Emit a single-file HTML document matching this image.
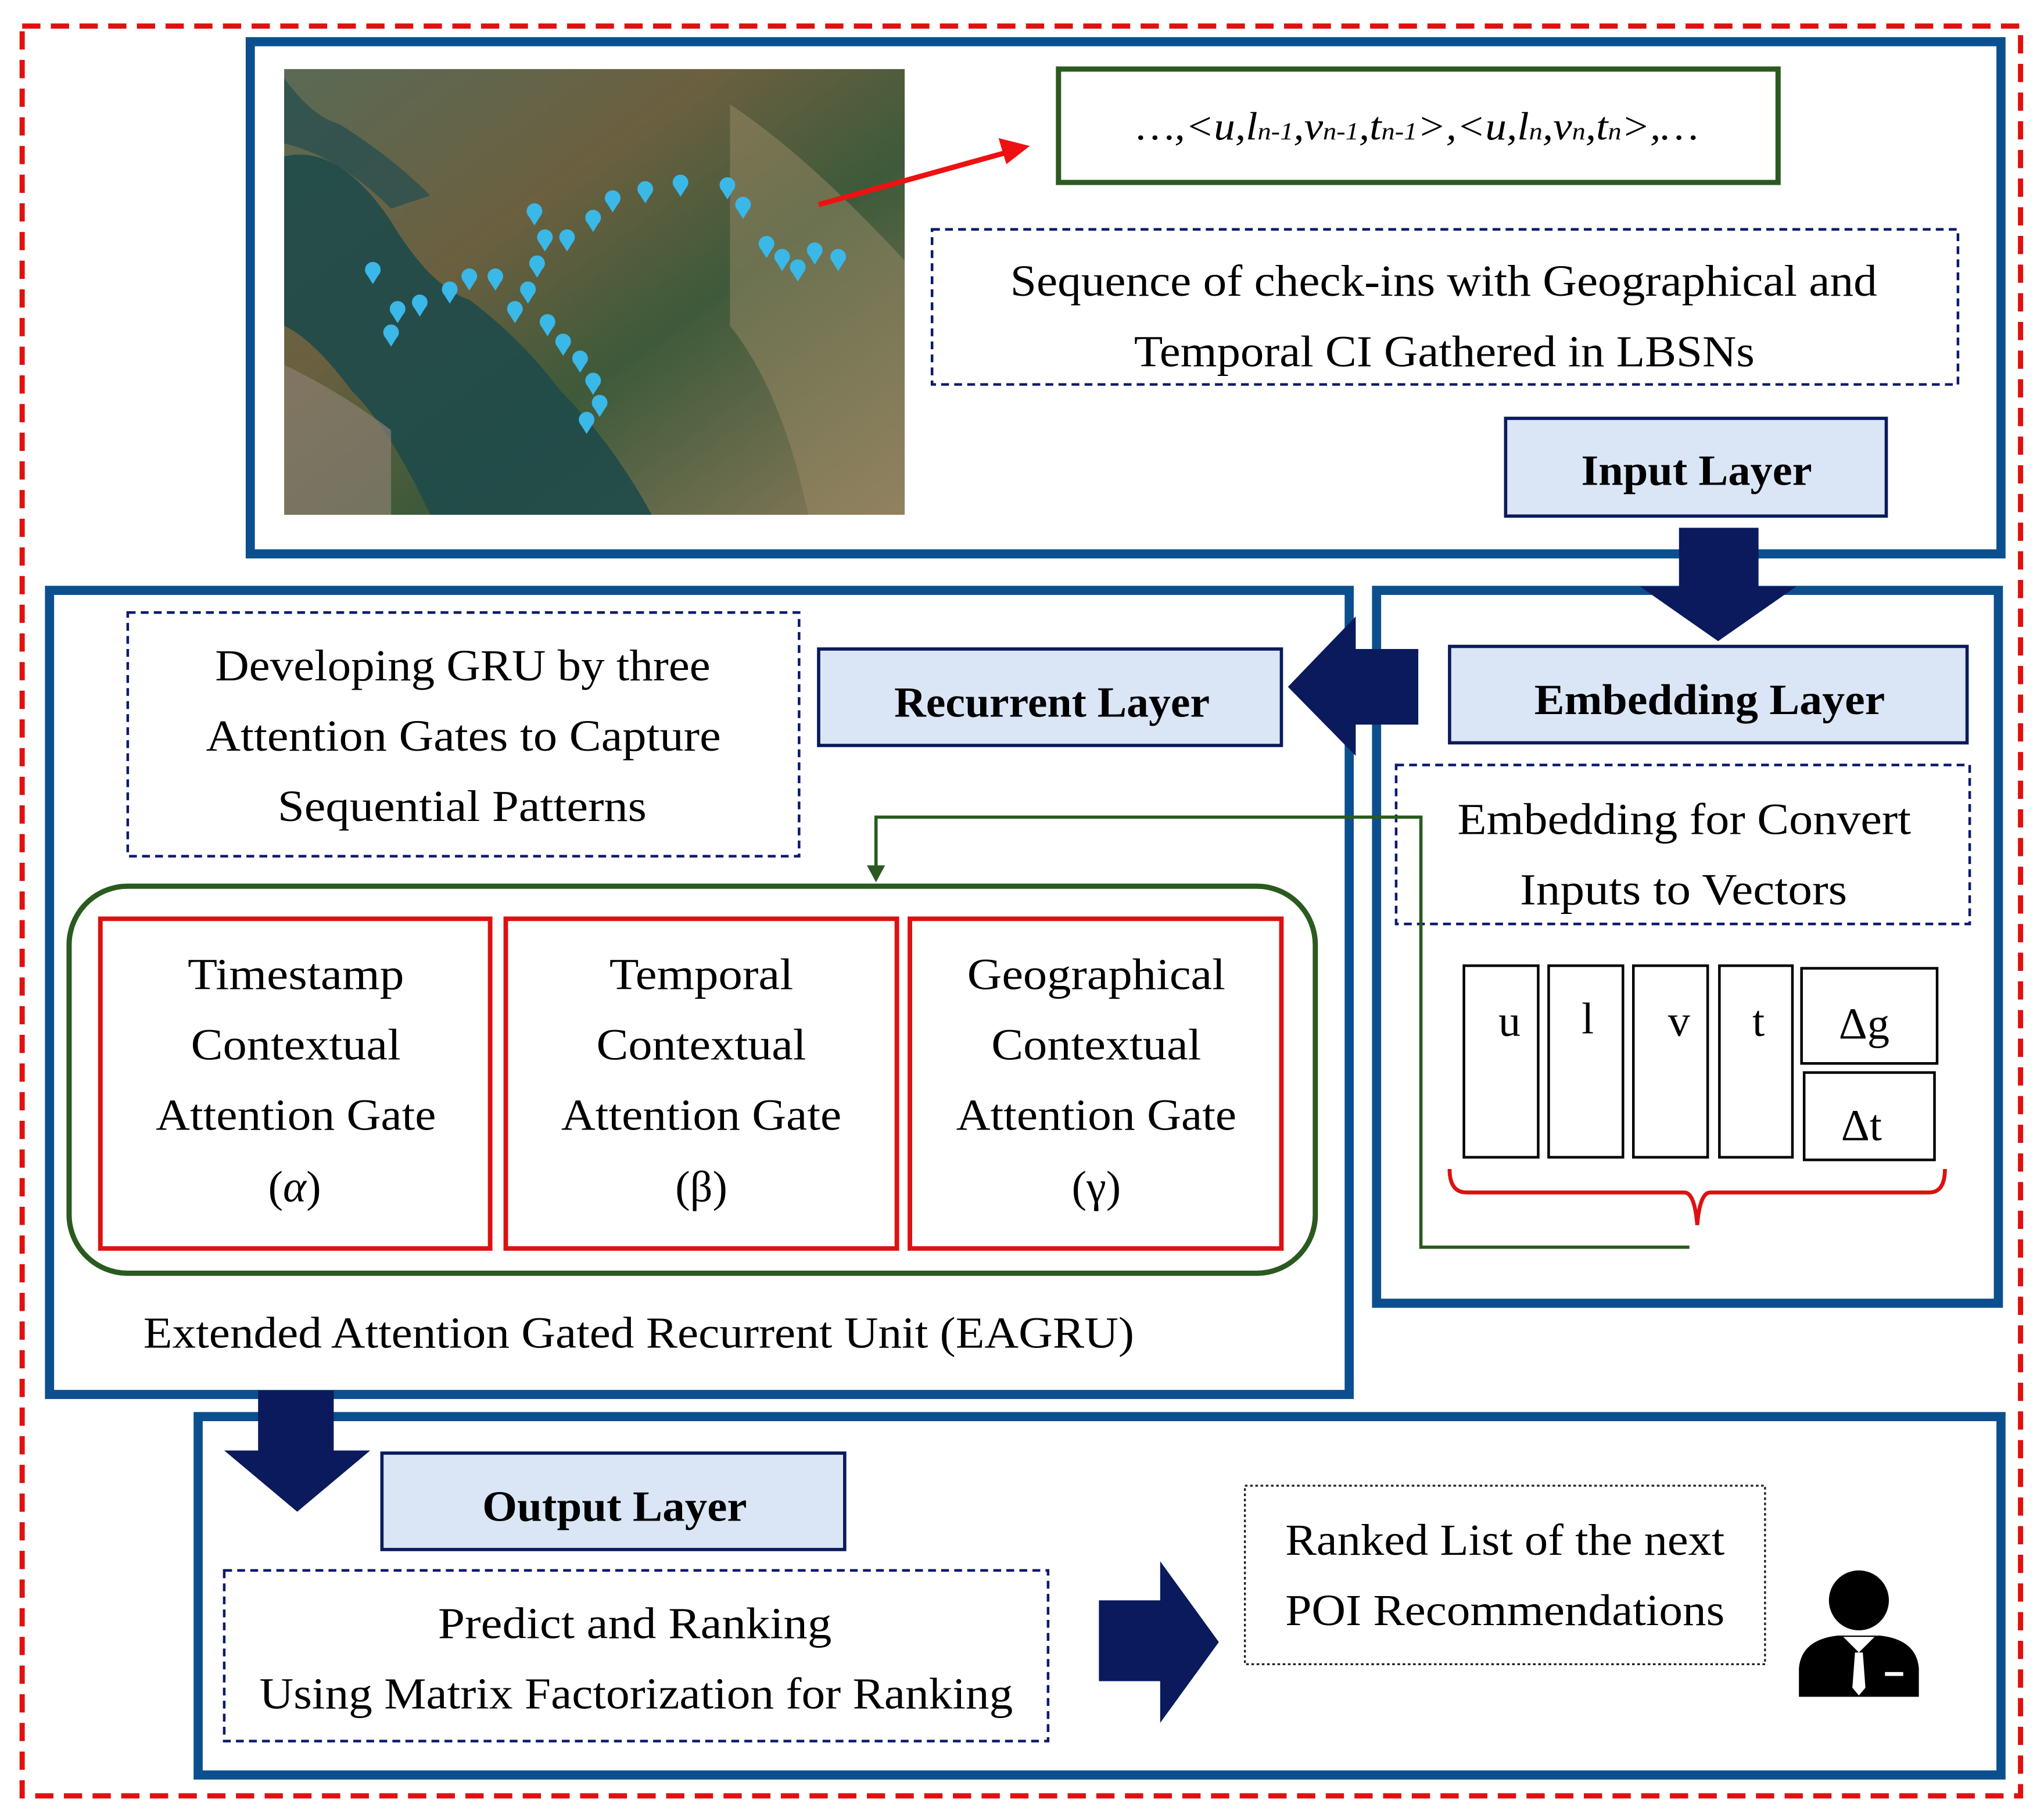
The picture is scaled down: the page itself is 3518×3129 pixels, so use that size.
<!DOCTYPE html>
<html><head><meta charset="utf-8">
<style>
html,body{margin:0;padding:0;background:#fff;}
svg{display:block;}
text{font-family:"Liberation Serif","DejaVu Serif",serif;fill:#000;}
</style></head>
<body>
<svg width="3518" height="3129" viewBox="0 0 1568 1395" preserveAspectRatio="none" xmlns="http://www.w3.org/2000/svg">
<defs>
<linearGradient id="map" x1="0" y1="0" x2="1" y2="1">
<stop offset="0" stop-color="#5a6a55"/><stop offset="0.35" stop-color="#6b6040"/><stop offset="0.6" stop-color="#3e5a3a"/><stop offset="1" stop-color="#8a7a5a"/>
</linearGradient>
<g id="pin"><circle cx="0" cy="-3" r="6" fill="#3ab8e8"/><path d="M-5,0 L0,8 L5,0 Z" fill="#3ab8e8"/></g>
</defs>
<rect x="17" y="20" width="1533" height="1358" fill="none" stroke="#e01010" stroke-width="4" stroke-dasharray="14 8"/>

<rect x="192" y="32" width="1343" height="393" fill="#fff" stroke="#0b4f8e" stroke-width="7"/>
<rect x="218" y="53" width="476" height="342" fill="url(#map)"/>
<path d="M218,120 Q260,110 300,170 Q330,220 360,230 Q400,260 430,300 Q470,340 500,395 L330,395 Q300,330 270,300 Q240,260 218,250 Z" fill="#1f4a4a" opacity="0.9"/>
<path d="M218,60 Q240,90 260,95 Q300,120 330,150 L300,160 Q260,120 218,110 Z" fill="#2a4f4f" opacity="0.8"/>
<path d="M218,280 Q260,300 300,330 L300,395 L218,395 Z" fill="#8a7f70" opacity="0.7"/>
<path d="M560,80 Q620,120 694,200 L694,395 L620,395 Q600,300 560,250 Z" fill="#9a8a65" opacity="0.5"/>
<g>
<use href="#pin" x="410" y="165"/><use href="#pin" x="418" y="185"/><use href="#pin" x="412" y="205"/><use href="#pin" x="435" y="185"/><use href="#pin" x="455" y="170"/>
<use href="#pin" x="470" y="155"/><use href="#pin" x="495" y="148"/><use href="#pin" x="522" y="143"/><use href="#pin" x="558" y="145"/><use href="#pin" x="570" y="160"/>
<use href="#pin" x="588" y="190"/><use href="#pin" x="600" y="200"/><use href="#pin" x="612" y="208"/><use href="#pin" x="625" y="195"/><use href="#pin" x="643" y="200"/>
<use href="#pin" x="405" y="225"/><use href="#pin" x="395" y="240"/><use href="#pin" x="380" y="215"/><use href="#pin" x="360" y="215"/><use href="#pin" x="345" y="225"/>
<use href="#pin" x="322" y="235"/><use href="#pin" x="305" y="240"/><use href="#pin" x="300" y="258"/><use href="#pin" x="286" y="210"/><use href="#pin" x="420" y="250"/>
<use href="#pin" x="432" y="265"/><use href="#pin" x="445" y="278"/><use href="#pin" x="455" y="295"/><use href="#pin" x="460" y="312"/><use href="#pin" x="450" y="325"/>
</g>
<rect x="812" y="53" width="552" height="87" fill="#fff" stroke="#2a5a1f" stroke-width="4"/>
<text x="872" y="107" font-size="30" font-style="italic" textLength="431" lengthAdjust="spacingAndGlyphs">…,&lt;u,l<tspan font-size="19">n-1</tspan>,v<tspan font-size="19">n-1</tspan>,t<tspan font-size="19">n-1</tspan>&gt;,&lt;u,l<tspan font-size="19">n</tspan>,v<tspan font-size="19">n</tspan>,t<tspan font-size="19">n</tspan>&gt;,…</text>
<line x1="628" y1="157" x2="772" y2="117" stroke="#ee1111" stroke-width="4"/>
<path d="M790,112 L766,106 L772,126 Z" fill="#ee1111"/>
<rect x="715" y="176" width="787" height="119" fill="#fff" stroke="#0a1a6c" stroke-width="2" stroke-dasharray="6 4"/>
<g font-size="34">
<text x="775" y="227" textLength="665" lengthAdjust="spacingAndGlyphs">Sequence of check-ins with Geographical and</text>
<text x="870" y="281" textLength="476" lengthAdjust="spacingAndGlyphs">Temporal CI Gathered in LBSNs</text>
</g>
<rect x="1155" y="321" width="292" height="75" fill="#dae5f5" stroke="#0a1a5c" stroke-width="2.5"/>
<text x="1213" y="372" font-size="33" font-weight="bold" textLength="177" lengthAdjust="spacingAndGlyphs">Input Layer</text>

<rect x="38" y="453" width="997" height="617" fill="#fff" stroke="#0b4f8e" stroke-width="7"/>
<rect x="1056" y="453" width="477" height="547" fill="#fff" stroke="#0b4f8e" stroke-width="7"/>
<path d="M1288,405 L1349,405 L1349,450 L1378,450 L1318,492 L1258,450 L1288,450 Z" fill="#0a1a5c"/>
<path d="M1088,498 L1088,556 L1040,556 L1040,580 L988,527 L1040,473 L1040,498 Z" fill="#0a1a5c"/>
<rect x="628" y="498" width="355" height="74" fill="#dae5f5" stroke="#0a1a5c" stroke-width="2.5"/>
<text x="686" y="550" font-size="33" font-weight="bold" textLength="242" lengthAdjust="spacingAndGlyphs">Recurrent Layer</text>
<rect x="1112" y="496" width="397" height="74" fill="#dae5f5" stroke="#0a1a5c" stroke-width="2.5"/>
<text x="1177" y="548" font-size="33" font-weight="bold" textLength="269" lengthAdjust="spacingAndGlyphs">Embedding Layer</text>
<rect x="98" y="470" width="515" height="187" fill="#fff" stroke="#0a1a6c" stroke-width="2" stroke-dasharray="6 4"/>
<g font-size="34">
<text x="165" y="522" textLength="380" lengthAdjust="spacingAndGlyphs">Developing GRU by three</text>
<text x="158" y="576" textLength="395" lengthAdjust="spacingAndGlyphs">Attention Gates to Capture</text>
<text x="213" y="630" textLength="283" lengthAdjust="spacingAndGlyphs">Sequential Patterns</text>
</g>
<rect x="1071" y="587" width="440" height="122" fill="#fff" stroke="#0a1a6c" stroke-width="2" stroke-dasharray="6 4"/>
<g font-size="34">
<text x="1118" y="640" textLength="348" lengthAdjust="spacingAndGlyphs">Embedding for Convert</text>
<text x="1166" y="694" textLength="251" lengthAdjust="spacingAndGlyphs">Inputs to Vectors</text>
</g>

<rect x="53" y="680" width="956" height="297" rx="45" fill="none" stroke="#2a5a1f" stroke-width="4"/>
<rect x="77" y="705" width="299" height="253" fill="#fff" stroke="#dd1111" stroke-width="3.5"/>
<rect x="388" y="705" width="300" height="253" fill="#fff" stroke="#dd1111" stroke-width="3.5"/>
<rect x="698" y="705" width="285" height="253" fill="#fff" stroke="#dd1111" stroke-width="3.5"/>
<g font-size="34" text-anchor="middle">
<text x="227" y="759" textLength="166" lengthAdjust="spacingAndGlyphs">Timestamp</text><text x="227" y="813" textLength="161" lengthAdjust="spacingAndGlyphs">Contextual</text><text x="227" y="867" textLength="215" lengthAdjust="spacingAndGlyphs">Attention Gate</text><text x="226" y="922">(<tspan font-style="italic">α</tspan>)</text>
<text x="538" y="759" textLength="141" lengthAdjust="spacingAndGlyphs">Temporal</text><text x="538" y="813" textLength="161" lengthAdjust="spacingAndGlyphs">Contextual</text><text x="538" y="867" textLength="215" lengthAdjust="spacingAndGlyphs">Attention Gate</text><text x="538" y="922">(β)</text>
<text x="841" y="759" textLength="198" lengthAdjust="spacingAndGlyphs">Geographical</text><text x="841" y="813" textLength="161" lengthAdjust="spacingAndGlyphs">Contextual</text><text x="841" y="867" textLength="215" lengthAdjust="spacingAndGlyphs">Attention Gate</text><text x="841" y="922">(γ)</text>
</g>
<polyline points="1296,957 1090,957 1090,627 672,627 672,668" fill="none" stroke="#2a5a1f" stroke-width="2.5"/>
<path d="M665,664 L679,664 L672,677 Z" fill="#2a5a1f"/>
<g fill="#fff" stroke="#000" stroke-width="2">
<rect x="1123" y="741" width="57" height="147"/><rect x="1188" y="741" width="57" height="147"/>
<rect x="1253" y="741" width="57" height="147"/><rect x="1319" y="741" width="56" height="147"/>
<rect x="1382" y="743" width="104" height="73"/><rect x="1384" y="823" width="100" height="67"/>
</g>
<g font-size="34" text-anchor="middle">
<text x="1158" y="795">u</text><text x="1218" y="793">l</text><text x="1288" y="795">v</text><text x="1349" y="795">t</text>
<text x="1430" y="797">Δg</text><text x="1428" y="875">Δt</text>
</g>
<path d="M1112,897 Q1112,915 1125,915 L1292,915 Q1300,915 1302,940 Q1304,915 1312,915 L1480,915 Q1492,915 1492,897" fill="none" stroke="#dd1111" stroke-width="3"/>
<text x="110" y="1034" font-size="34" textLength="760" lengthAdjust="spacingAndGlyphs">Extended Attention Gated Recurrent Unit (EAGRU)</text>

<rect x="152" y="1087" width="1383" height="275" fill="#fff" stroke="#0b4f8e" stroke-width="7"/>
<path d="M198,1067 L256,1067 L256,1113 L284,1113 L228,1160 L172,1113 L198,1113 Z" fill="#0a1a5c"/>
<rect x="293" y="1115" width="355" height="74" fill="#dae5f5" stroke="#0a1a5c" stroke-width="2.5"/>
<text x="370" y="1167" font-size="33" font-weight="bold" textLength="203" lengthAdjust="spacingAndGlyphs">Output Layer</text>
<rect x="172" y="1205" width="632" height="131" fill="#fff" stroke="#0a1a6c" stroke-width="2" stroke-dasharray="6 4"/>
<g font-size="34">
<text x="336" y="1257" textLength="302" lengthAdjust="spacingAndGlyphs">Predict and Ranking</text>
<text x="199" y="1311" textLength="578" lengthAdjust="spacingAndGlyphs">Using Matrix Factorization for Ranking</text>
</g>
<path d="M843,1228 L890,1228 L890,1198 L935,1260 L890,1322 L890,1290 L843,1290 Z" fill="#0a1a5c"/>
<rect x="955" y="1140" width="399" height="137" fill="#fff" stroke="#222" stroke-width="1.5" stroke-dasharray="2 2"/>
<g font-size="34">
<text x="986" y="1193" textLength="337" lengthAdjust="spacingAndGlyphs">Ranked List of the next</text>
<text x="986" y="1247" textLength="337" lengthAdjust="spacingAndGlyphs">POI Recommendations</text>
</g>
<circle cx="1426" cy="1228" r="23" fill="#000"/>
<path d="M1380,1302 L1380,1280 Q1382,1258 1410,1255 L1442,1255 Q1470,1258 1472,1280 L1472,1302 Z" fill="#000"/>
<path d="M1414,1256 L1426,1268 L1438,1256 Z" fill="#fff"/>
<path d="M1423,1268 L1429,1268 L1431,1295 L1426,1301 L1421,1295 Z" fill="#fff"/>
<rect x="1446" y="1283" width="14" height="3" fill="#fff"/>
</svg>
</body></html>
